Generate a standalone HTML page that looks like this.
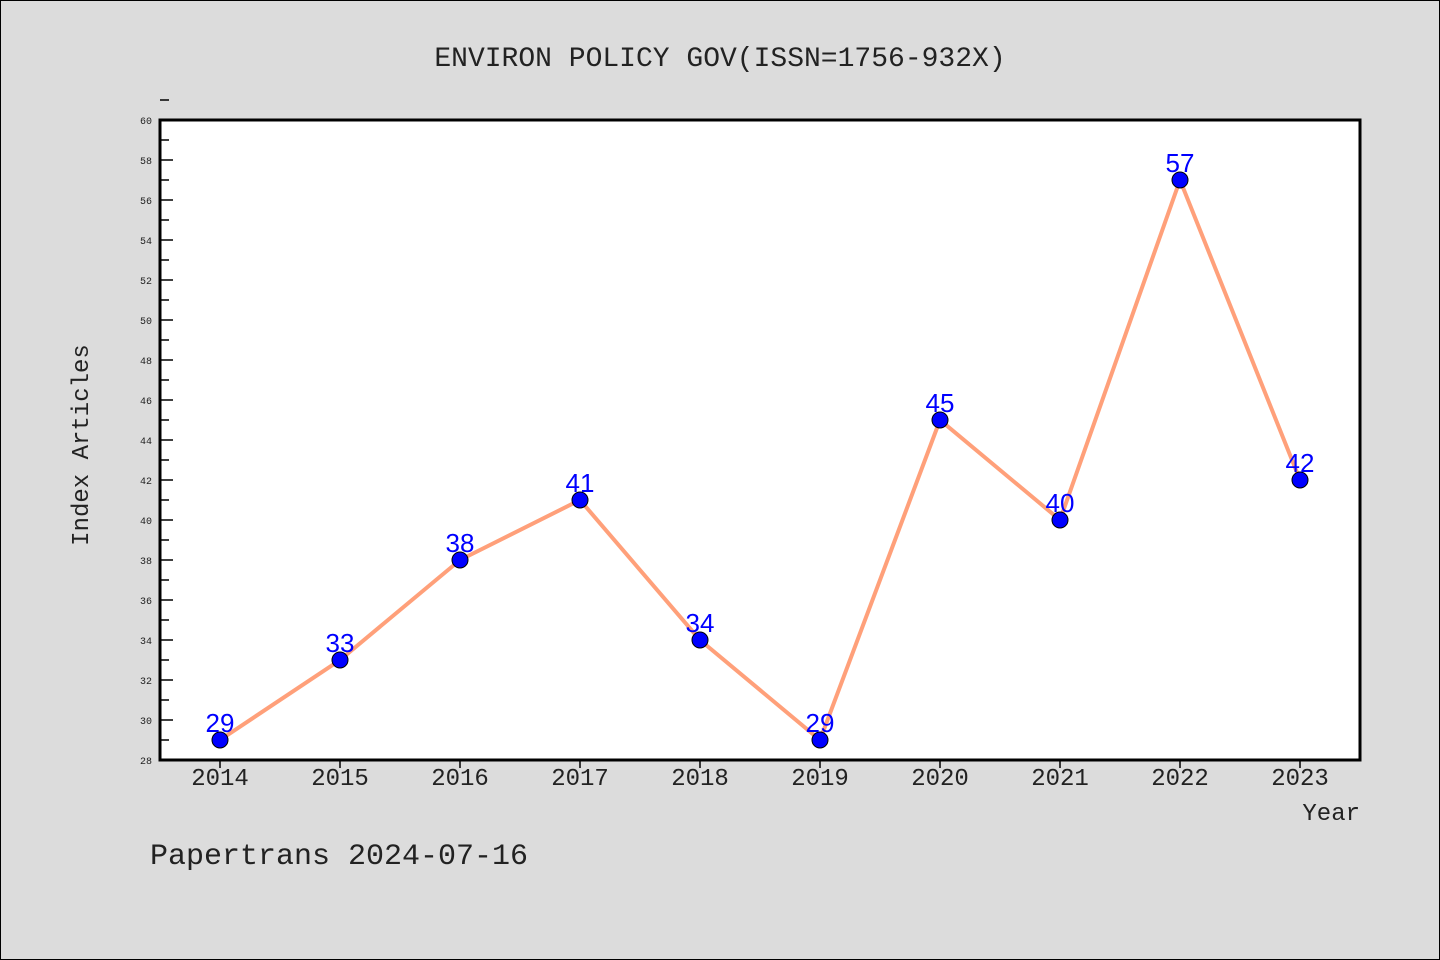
<!DOCTYPE html>
<html><head><meta charset="utf-8"><style>
body{margin:0;background:#dcdcdc;}
svg{display:block;font-family:"Liberation Mono","DejaVu Sans Mono",monospace;}
</style></head><body>
<svg width="1440" height="960">
<rect x="0.5" y="0.5" width="1439" height="959" fill="#dcdcdc" stroke="#000"/>
<text x="720" y="66" text-anchor="middle" font-size="28" fill="#222">ENVIRON POLICY GOV(ISSN=1756-932X)</text>
<rect x="160" y="120" width="1200" height="640" fill="#fff"/>
<g id="yaxis"></g>
<g id="xaxis"></g>
<g id="series"></g>
<rect x="160" y="120" width="1200" height="640" fill="none" stroke="#000" stroke-width="3"/>
<text transform="translate(88,445) rotate(-90)" text-anchor="middle" font-size="24" fill="#222">Index Articles</text>
<text x="1360" y="820" text-anchor="end" font-size="24" fill="#222">Year</text>
<text x="150" y="864" font-size="30" fill="#222">Papertrans 2024-07-16</text>
</svg>
<script>
const years=["2014","2015","2016","2017","2018","2019","2020","2021","2022","2023"];
const counts=[29,33,38,41,34,29,45,40,57,42];
const yTicks=[28,30,32,34,36,38,40,42,44,46,48,50,52,54,56,58,60];
const NS="http://www.w3.org/2000/svg";
const yMin=28,yMax=60;
function ys(v){return 760-(v-yMin)/(yMax-yMin)*640;}
function xs(i){return 220+i*120;}
function mk(t,a,p){const e=document.createElementNS(NS,t);for(const k in a)e.setAttribute(k,a[k]);p.appendChild(e);return e;}
const ya=document.getElementById('yaxis');
yTicks.forEach(v=>{
 const l=mk('line',{x1:160,x2:173,y1:ys(v),y2:ys(v),stroke:'#000','stroke-width':1.5},ya);
 
 
 const m=mk('line',{x1:160,x2:169,y1:ys(v+1),y2:ys(v+1),stroke:'#000','stroke-width':1.5},ya);
 
 
 const t=mk('text',{x:152,y:ys(v)+4,'text-anchor':'end','font-size':10,fill:'#222'},ya);
 t.textContent=v;
 
 
});
const xa=document.getElementById('xaxis');
years.forEach((y,i)=>{
 const l=mk('line',{x1:xs(i),x2:xs(i),y1:760,y2:768,stroke:'#000','stroke-width':1.5},xa);
 
 
 const t=mk('text',{x:xs(i),y:785,'text-anchor':'middle','font-size':24,fill:'#222'},xa);
 t.textContent=y;
 
 
});
const s=document.getElementById('series');
const pl=mk('polyline',{points:counts.map((v,i)=>xs(i)+','+ys(v)).join(' '),fill:'none',stroke:'#ffa07a','stroke-width':4},s);


counts.forEach((v,i)=>{
 const c=mk('circle',{cx:xs(i),cy:ys(v),r:8,fill:'#0000ff',stroke:'#000','stroke-width':1},s);
 
 
 const t=mk('text',{x:xs(i),y:ys(v)-8,'text-anchor':'middle','font-size':26,fill:'#0000ff','font-family':'Liberation Sans, sans-serif'},s);
 t.textContent=v;
 
 
});
</script>
</body></html>
